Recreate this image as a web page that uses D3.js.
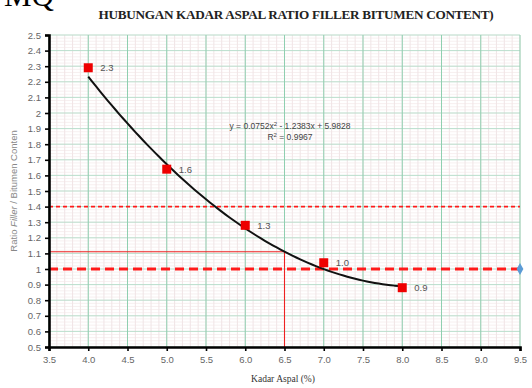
<!DOCTYPE html>
<html>
<head>
<meta charset="utf-8">
<script src="https://cdn.jsdelivr.net/npm/d3@7/dist/d3.min.js"></script>
<style>
  html, body { margin: 0; padding: 0; background: #fff; }
  svg { display: block; }
</style>
</head>
<body>
<svg id="chart" width="532" height="388"></svg>
<script>
// Asphalt content (%) and the measured filler/bitumen ratio
const kadarAspal = [4, 5, 6, 7, 8];
const ratioFB = [2.29, 1.64, 1.28, 1.04, 0.88];

// Polynomial trendline (2nd order): a*x^2 + b*x + c
const trendCoef = [0.0752, -1.2383, 5.9828];
const rSquared = 0.9967;

// Specification limits and chosen asphalt content
const ratioLimits = [1.4, 1.0];
const optimumKadar = [6.5];

// Axis ticks
const xTicks = [3.5, 4.0, 4.5, 5.0, 5.5, 6.0, 6.5, 7.0, 7.5, 8.0, 8.5, 9.0, 9.5];
const yTicks = [0.5, 0.6, 0.7, 0.8, 0.9, 1, 1.1, 1.2, 1.3, 1.4, 1.5, 1.6, 1.7, 1.8, 1.9, 2, 2.1, 2.2, 2.3, 2.4, 2.5];

const svg = d3.select("#chart");
const pLeft = 49, pRight = 520, pTop = 35, pBottom = 347;

const x = d3.scaleLinear().domain([3.5, 9.5]).range([pLeft, pRight]);
const y = d3.scaleLinear().domain([0.5, 2.5]).range([pBottom, pTop]);

const trend = v => trendCoef[0] * v * v + trendCoef[1] * v + trendCoef[2];

// Graph-paper grid: fine lines first, then the heavier green ones
const grid = svg.append("g");
const fineX = d3.range(35, 96, 1).map(d => d / 10);
const fineY = d3.range(25, 126, 1).map(d => d / 50);
grid.selectAll(".fx").data(fineX).join("line")
  .attr("x1", d => x(d)).attr("x2", d => x(d)).attr("y1", pTop).attr("y2", pBottom)
  .attr("stroke", "#ead9db").attr("stroke-width", 0.7);
grid.selectAll(".fy").data(fineY).join("line")
  .attr("x1", pLeft).attr("x2", pRight).attr("y1", d => y(d)).attr("y2", d => y(d))
  .attr("stroke", "#f1e5e6").attr("stroke-width", 0.6);
grid.selectAll(".my").data(yTicks).join("line")
  .attr("x1", pLeft).attr("x2", pRight).attr("y1", d => y(d)).attr("y2", d => y(d))
  .attr("stroke", "#b3ddc8").attr("stroke-width", 0.9);
grid.selectAll(".mx").data(xTicks).join("line")
  .attr("x1", d => x(d)).attr("x2", d => x(d)).attr("y1", pTop).attr("y2", pBottom)
  .attr("stroke", "#8fcfb0").attr("stroke-width", 1);

// Specification limit lines
svg.append("line")
  .attr("x1", pLeft).attr("x2", pRight).attr("y1", y(ratioLimits[0])).attr("y2", y(ratioLimits[0]))
  .attr("stroke", "#ff1a1a").attr("stroke-width", 1.6).attr("stroke-dasharray", "4,3");
svg.append("line")
  .attr("x1", pLeft).attr("x2", pRight).attr("y1", y(ratioLimits[1])).attr("y2", y(ratioLimits[1]))
  .attr("stroke", "#ff1a1a").attr("stroke-width", 3.2).attr("stroke-dasharray", "9,5");
svg.append("path")
  .attr("d", d3.symbol(d3.symbolDiamond, 40)())
  .attr("transform", `translate(${x(9.5)},${y(ratioLimits[1])})`)
  .attr("fill", "#5b9bd5");

// Ratio at the chosen asphalt content, read from the trendline
const ratioOpt = trend(optimumKadar[0]);
svg.append("line")
  .attr("x1", pLeft).attr("x2", x(optimumKadar[0])).attr("y1", y(ratioOpt)).attr("y2", y(ratioOpt))
  .attr("stroke", "#ee2222").attr("stroke-width", 1.1);
svg.append("line")
  .attr("x1", x(optimumKadar[0])).attr("x2", x(optimumKadar[0])).attr("y1", y(ratioOpt)).attr("y2", pBottom)
  .attr("stroke", "#ee2222").attr("stroke-width", 1.1);

// Trendline
const xFirst = kadarAspal[0], xLast = kadarAspal[kadarAspal.length - 1];
const curveX = d3.range(0, 81).map(i => xFirst + i * (xLast - xFirst) / 80);
svg.append("path")
  .datum(curveX)
  .attr("d", d3.line().x(d => x(d)).y(d => y(trend(d))).curve(d3.curveMonotoneX))
  .attr("fill", "none").attr("stroke", "#111").attr("stroke-width", 2);

// Data points and value labels
const pts = kadarAspal.map((k, i) => ({ k, r: ratioFB[i] }));
svg.selectAll(".pt").data(pts).join("rect")
  .attr("x", d => x(d.k) - 4.5).attr("y", d => y(d.r) - 4.5)
  .attr("width", 9).attr("height", 9).attr("fill", "#ee0000");
svg.selectAll(".lbl").data(pts).join("text")
  .attr("x", d => x(d.k) + 12).attr("y", d => y(d.r) + 3.5)
  .attr("font-family", "Liberation Sans, Arial, sans-serif").attr("font-size", 9.5)
  .attr("fill", "#555").text(d => d3.format(".1f")(d.r));

// Axes
const yAxis = svg.append("g").attr("transform", `translate(${pLeft},0)`)
  .call(d3.axisLeft(y).tickValues(yTicks).tickSize(4).tickPadding(4).tickFormat(d3.format("")));
const xAxis = svg.append("g").attr("transform", `translate(0,${pBottom})`)
  .call(d3.axisBottom(x).tickValues(xTicks).tickSize(4).tickPadding(5).tickFormat(d3.format(".1f")));
[yAxis, xAxis].forEach(g => {
  g.select(".domain").attr("stroke", "#000").attr("stroke-width", 2.6);
  g.selectAll(".tick line").attr("stroke", "#000").attr("stroke-width", 1.6);
  g.selectAll(".tick text").attr("fill", "#666")
    .attr("font-family", "Liberation Sans, Arial, sans-serif").attr("font-size", 9.5);
});

// Trendline equation
const eq = svg.append("text").attr("x", 290).attr("y", 129)
  .attr("text-anchor", "middle").attr("font-family", "Liberation Sans, Arial, sans-serif")
  .attr("font-size", 8.5).attr("fill", "#444");
eq.append("tspan").text(`y = ${trendCoef[0]}x`);
eq.append("tspan").attr("font-size", 6).attr("dy", -3).text("2");
eq.append("tspan").attr("dy", 3).text(` - ${Math.abs(trendCoef[1])}x + ${trendCoef[2]}`);
const r2 = svg.append("text").attr("x", 290).attr("y", 140)
  .attr("text-anchor", "middle").attr("font-family", "Liberation Sans, Arial, sans-serif")
  .attr("font-size", 8.5).attr("fill", "#444");
r2.append("tspan").text("R");
r2.append("tspan").attr("font-size", 6).attr("dy", -3).text("2");
r2.append("tspan").attr("dy", 3).text(` = ${rSquared}`);

// Titles
svg.append("text").attr("x", 4).attr("y", 6)
  .attr("font-family", "Liberation Serif, Times New Roman, serif").attr("font-size", 31)
  .attr("fill", "#000").text("MQ");
svg.append("text").attr("x", 296).attr("y", 19).attr("text-anchor", "middle")
  .attr("font-family", "Liberation Serif, Times New Roman, serif").attr("font-weight", "bold")
  .attr("font-size", 13.2).attr("fill", "#222").attr("letter-spacing", -0.3)
  .text("HUBUNGAN KADAR ASPAL RATIO FILLER BITUMEN CONTENT)");
svg.append("text").attr("x", 283).attr("y", 382).attr("text-anchor", "middle")
  .attr("font-family", "Liberation Serif, Times New Roman, serif").attr("font-size", 9.5)
  .attr("fill", "#333").text("Kadar Aspal (%)");
const yt = svg.append("text").attr("transform", "translate(17,191) rotate(-90)")
  .attr("text-anchor", "middle").attr("font-family", "Liberation Sans, Arial, sans-serif")
  .attr("font-size", 9.5).attr("fill", "#888");
yt.append("tspan").text("Ratio ");
yt.append("tspan").attr("font-style", "italic").text("Filler");
yt.append("tspan").text(" / Bitumen Conten");
</script>
</body>
</html>
